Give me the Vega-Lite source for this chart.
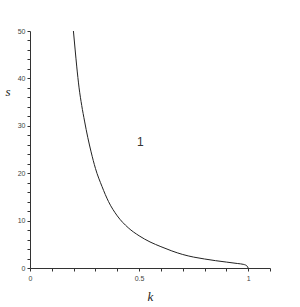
{
  "$schema": "https://vega.github.io/schema/vega-lite/v6.json",
  "autosize": "none",
  "padding": {"left": 30, "top": 31, "right": 30, "bottom": 39},
  "width": 240,
  "height": 237,
  "background": "white",
  "config": {"view": {"stroke": null}},
  "layer": [
    {
      "data": {"values": [
        {"k": 0.199, "s": 50},
        {"k": 0.207, "s": 46},
        {"k": 0.214, "s": 42.6},
        {"k": 0.225, "s": 38},
        {"k": 0.237, "s": 34.3},
        {"k": 0.25, "s": 31},
        {"k": 0.265, "s": 27.5},
        {"k": 0.28, "s": 24.5},
        {"k": 0.3, "s": 21},
        {"k": 0.33, "s": 17.2},
        {"k": 0.36, "s": 14.0},
        {"k": 0.4, "s": 11.0},
        {"k": 0.45, "s": 8.5},
        {"k": 0.5, "s": 6.8},
        {"k": 0.55, "s": 5.5},
        {"k": 0.6, "s": 4.5},
        {"k": 0.65, "s": 3.6},
        {"k": 0.7, "s": 2.85},
        {"k": 0.75, "s": 2.3},
        {"k": 0.8, "s": 1.9},
        {"k": 0.85, "s": 1.55},
        {"k": 0.9, "s": 1.25},
        {"k": 0.95, "s": 0.95},
        {"k": 0.98, "s": 0.75},
        {"k": 0.995, "s": 0.4},
        {"k": 1.0, "s": 0}
      ]},
      "mark": {"type": "line", "color": "#222", "strokeWidth": 1, "interpolate": "monotone"},
      "encoding": {
        "x": {
          "field": "k", "type": "quantitative",
          "scale": {"domain": [0, 1.1], "nice": false, "zero": false},
          "axis": {
            "values": [0, 0.1, 0.2, 0.3, 0.4, 0.5, 0.6, 0.7, 0.8, 0.9, 1.0, 1.1],
            "tickCount": 100,
            "labelExpr": "datum.value == 0 ? '0' : (abs(datum.value - 0.5) < 0.001 ? '0.5' : (abs(datum.value - 1) < 0.001 ? '1' : ''))",
            "grid": false,
            "domainColor": "#333",
            "tickColor": "#333",
            "tickSize": 3,
            "labelFontSize": 7,
            "labelColor": "#444",
            "labelFont": "Liberation Sans",
            "labelPadding": 3,
            "labelFlush": false,
            "labelOverlap": false,
            "labelBound": false,
            "title": "k",
            "titleFont": "Liberation Serif",
            "titleFontStyle": "italic",
            "titleFontWeight": "normal",
            "titleFontSize": 13,
            "titleColor": "#222",
            "titleX": 120,
            "titleY": 32,
            "titleBaseline": "alphabetic"
          }
        },
        "y": {
          "field": "s", "type": "quantitative",
          "scale": {"domain": [0, 50], "nice": false},
          "axis": {
            "values": [0, 2, 4, 6, 8, 10, 12, 14, 16, 18, 20, 22, 24, 26, 28, 30, 32, 34, 36, 38, 40, 42, 44, 46, 48, 50],
            "tickCount": 100,
            "labelExpr": "(datum.value % 10 == 0) ? format(datum.value, 'd') : ''",
            "grid": false,
            "domainColor": "#333",
            "tickColor": "#333",
            "tickSize": 3,
            "labelFontSize": 7,
            "labelColor": "#444",
            "labelFont": "Liberation Sans",
            "labelPadding": 2,
            "labelFlush": false,
            "labelOverlap": false,
            "labelBound": false,
            "title": "s",
            "titleFont": "Liberation Serif",
            "titleFontStyle": "italic",
            "titleFontWeight": "normal",
            "titleFontSize": 13,
            "titleColor": "#222",
            "titleAngle": 0,
            "titleAlign": "left",
            "titleX": -25,
            "titleY": 64,
            "titleBaseline": "alphabetic"
          }
        }
      }
    },
    {
      "data": {"values": [{"k": 0.506, "s": 26.6, "label": "1"}]},
      "mark": {"type": "text", "font": "Liberation Sans", "fontSize": 12, "color": "#333", "baseline": "middle", "align": "center"},
      "encoding": {
        "x": {"field": "k", "type": "quantitative"},
        "y": {"field": "s", "type": "quantitative"},
        "text": {"field": "label"}
      }
    }
  ]
}
